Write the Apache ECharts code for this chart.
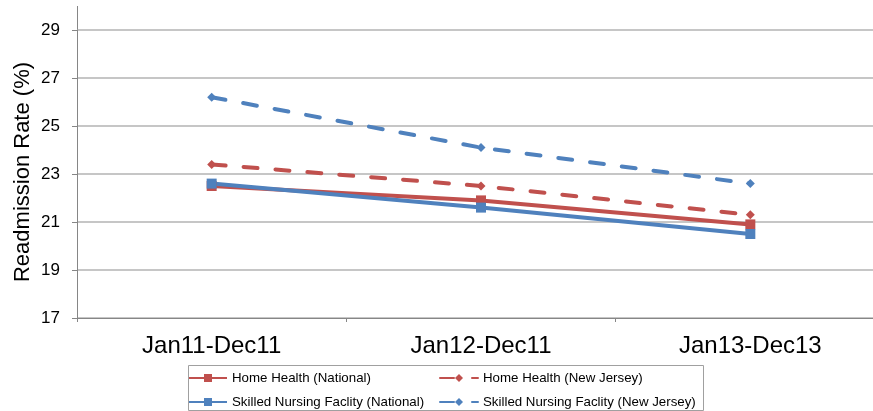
<!DOCTYPE html>
<html>
<head>
<meta charset="utf-8">
<script src="https://cdn.jsdelivr.net/npm/echarts@6/dist/echarts.min.js"></script>
<style>html,body{margin:0;padding:0;background:#fff;overflow:hidden;width:873px;height:411px}#c{width:885px;height:411px}</style>
</head>
<body>
<div id="c"></div>
<script>
var categories = ['Jan11-Dec11', 'Jan12-Dec11', 'Jan13-Dec13'];
var homeHealthNational = [22.5, 21.9, 20.9];
var homeHealthNJ = [23.4, 22.5, 21.3];
var snfNational = [22.6, 21.6, 20.5];
var snfNJ = [26.2, 24.1, 22.6];
var seriesNames = ['Home Health (National)', 'Home Health (New Jersey)', 'Skilled Nursing Faclity (National)', 'Skilled Nursing Faclity (New Jersey)'];
var yAxisTitle = 'Readmission Rate (%)';

var RED = '#C0504D', BLUE = '#4F81BD';
var FONT = 'Liberation Sans, Arial, sans-serif';

function solid(name, data, color) {
  return {
    name: name, type: 'line', data: data,
    symbol: 'rect', symbolSize: 10,
    lineStyle: { color: color, width: 4 },
    itemStyle: { color: color },
    emphasis: { disabled: true }, animation: false
  };
}
function dashed(name, data, color) {
  return {
    name: name, type: 'line', data: data,
    symbol: 'diamond', symbolSize: 9,
    lineStyle: { color: color, width: 4, type: [14, 18], cap: 'round' },
    itemStyle: { color: color },
    emphasis: { disabled: true }, animation: false
  };
}
function legendItem(name, left, top) {
  return {
    data: [name], orient: 'horizontal', left: left, top: top,
    itemWidth: 38, itemHeight: 10, padding: 0,
    textStyle: { color: '#000', fontSize: 13.3, fontFamily: FONT, lineHeight: 14 },
    selectedMode: false
  };
}

var chart = echarts.init(document.getElementById('c'), null, { renderer: 'canvas' });
chart.setOption({
  backgroundColor: '#fff',
  animation: false,
  textStyle: { fontFamily: FONT },
  grid: { left: 77, top: 30, right: 0, bottom: 93, containLabel: false },
  xAxis: {
    type: 'category', data: categories, boundaryGap: true,
    axisLine: { lineStyle: { color: '#868686', width: 1 } },
    axisTick: { show: true, length: 4, lineStyle: { color: '#868686' } },
    axisLabel: { color: '#000', fontSize: 24, fontFamily: FONT, margin: 16 }
  },
  yAxis: {
    type: 'value', min: 17, max: 29, interval: 2,
    axisLine: { show: true, lineStyle: { color: '#868686', width: 1 } },
    axisTick: { show: true, length: 5, lineStyle: { color: '#868686' } },
    axisLabel: { color: '#000', fontSize: 17, fontFamily: FONT, margin: 17 },
    splitLine: { show: true, lineStyle: { color: '#B3B3B3', width: 1.5 } }
  },
  legend: [
    legendItem(seriesNames[0], 188, 371),
    legendItem(seriesNames[2], 188, 395),
    legendItem(seriesNames[1], 439, 371),
    legendItem(seriesNames[3], 439, 395)
  ],
  graphic: [
    { type: 'line', shape: { x1: 77.5, y1: 6, x2: 77.5, y2: 30 }, style: { stroke: '#868686', lineWidth: 1 }, silent: true },
    { type: 'rect', shape: { x: 188.5, y: 365.5, width: 515, height: 45 }, style: { fill: 'none', stroke: '#A0A0A0', lineWidth: 1 }, silent: true },
    { type: 'text', x: 23, y: 172, rotation: Math.PI / 2,
      style: { text: yAxisTitle, fontSize: 22, fontFamily: FONT, fill: '#000', align: 'center', verticalAlign: 'middle' }, silent: true }
  ],
  series: [
    solid(seriesNames[0], homeHealthNational, RED),
    dashed(seriesNames[1], homeHealthNJ, RED),
    solid(seriesNames[2], snfNational, BLUE),
    dashed(seriesNames[3], snfNJ, BLUE)
  ]
});
</script>
</body>
</html>
